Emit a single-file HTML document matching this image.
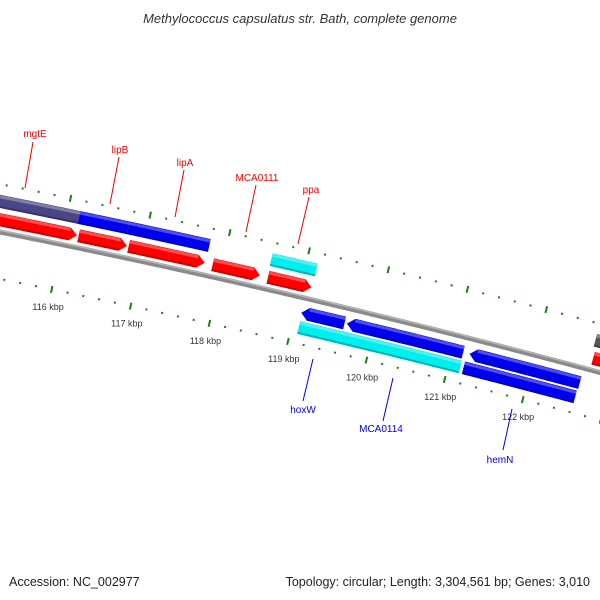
<!DOCTYPE html>
<html><head><meta charset="utf-8"><style>
body{margin:0;background:#fff}
svg{display:block;font-family:"Liberation Sans",sans-serif}
</style></head><body>
<svg id="map" width="600" height="600" viewBox="0 0 600 600" xmlns="http://www.w3.org/2000/svg">
<rect width="600" height="600" fill="#fff"/>
<text x="300" y="23" text-anchor="middle" font-size="13" font-style="italic" fill="#333">Methylococcus capsulatus str. Bath, complete genome</text>
<g id="ticks"></g><g id="genes"></g><g id="labels"></g>
<text x="9" y="586" font-size="12.5" fill="#222">Accession: NC_002977</text>
<text x="590" y="586" text-anchor="end" font-size="12.5" fill="#222">Topology: circular; Length: 3,304,561 bp; Genes: 3,010</text>
</svg>
<script>
// gene data
const geneStarts = [110000,116190,116820,117880,118580,122710, 110000,116150,116770,118570,122680, 119080,119660,121220, 119090,119640,121190];
const geneEnds   = [116170,116800,117780,118480,119130,126000, 116150,116770,117790,119140,126000, 119630,121140,122630, 119640,121150,122620];
const geneRows   = [12,12,12,12,12,12, 30,30,30,30,30, -15,-15,-15, -30,-30,-30];
const geneStrand = [1,1,1,1,1,1, 0,0,0,0,0, -1,-1,-1, 0,0,0];
const geneColors = ["#ff0000","#ff0000","#ff0000","#ff0000","#ff0000","#ff0000","#4a4585","#0000ee","#0000ee","#00eeee","#555555","#0000ee","#0000ee","#0000ee","#00eeee","#00eeee","#0000ee"];
const tickKbp = [113,114,115,116,117,118,119,120,121,122,123,124];
const labelKbp = [116,117,118,119,120,121,122];
const tickLabels = ["116 kbp","117 kbp","118 kbp","119 kbp","120 kbp","121 kbp","122 kbp"];
const labelNames = ["mgtE","lipB","lipA","MCA0111","ppa","hoxW","MCA0114","hemN"];
const labelX = [35,120,185,257,311,303,381,500];
const labelY = [137,153,166,181,193,413,432,463];
const lineFrom = [[33,142],[119,157],[184,170],[256,185],[309,197],[313,359],[393,378],[512,409]];
const lineTo = [[25,188],[110,204],[175,217],[246,232],[298,244],[303,401],[383,421],[503,450]];
const labelColors = ["#ee0000","#ee0000","#ee0000","#ee0000","#ee0000","#0000ee","#0000ee","#0000ee"];

const NS="http://www.w3.org/2000/svg";
const cx=-1820, cy=9355;
const R=Math.hypot(300-cx,297-cy);
const a0=Math.atan2(297-cy,300-cx);
const K=0.00871/1000;
function pt(bp,r){const a=a0+(bp-119020)*K;return [cx+(R+r)*Math.cos(a), cy+(R+r)*Math.sin(a)];}
function arcPts(s,e,r){const p=[];const n=Math.max(2,Math.ceil((e-s)/40));for(let i=0;i<=n;i++)p.push(pt(s+(e-s)*i/n,r));return p;}
function mk(tag,attrs,parent){const el=document.createElementNS(NS,tag);for(const k in attrs)el.setAttribute(k,attrs[k]);parent.appendChild(el);return el;}
const P=p=>p.map(q=>q[0].toFixed(2)+","+q[1].toFixed(2)).join(" ");

const tg=document.getElementById('ticks');
const bb=mk('polyline',{points:P(arcPts(108000,127000,0)),fill:'none',stroke:'#8a8a8a','stroke-width':5},tg);


const bb2=mk('polyline',{points:P(arcPts(108000,127000,1.5)),fill:'none',stroke:'#b5b5b5','stroke-width':1.5},tg);



[47,-46].forEach(rr=>{
  for(let bp=tickKbp[0]*1000;bp<=tickKbp[tickKbp.length-1]*1000;bp+=200){
    const major=bp%1000===0;
    const h=major?3.5:1;
    const a=pt(bp,rr-h),b=pt(bp,rr+h);
    const t=mk('line',{x1:a[0],y1:a[1],x2:b[0],y2:b[1],stroke:'#1a7f1a','stroke-width':2},tg);
    
    
  }
});
labelKbp.forEach((k,i)=>{
  const p=pt(k*1000,-64);
  const t=mk('text',{x:p[0],y:p[1]+3,'text-anchor':'middle','font-size':9,fill:'#333'},tg);
  t.textContent=tickLabels[i];
  
  
});

const gg=document.getElementById('genes');
const H=13, head=90;
geneStarts.forEach((s,i)=>{
  const e=geneEnds[i], r=geneRows[i], st=geneStrand[i];
  let pts;
  const top=r+H/2, bot=r-H/2;
  if(st===1){
    const b=Math.max(s,e-head);
    pts=arcPts(s,b,top).concat([pt(e,r)]).concat(arcPts(s,b,bot).reverse());
  }else if(st===-1){
    const b=Math.min(e,s+head);
    pts=[pt(s,r)].concat(arcPts(b,e,top)).concat(arcPts(b,e,bot).reverse());
  }else{
    pts=arcPts(s,e,top).concat(arcPts(s,e,bot).reverse());
  }
  const g=mk('polygon',{points:P(pts),fill:geneColors[i]},gg);
  
  
  const s2=st===-1?Math.min(e,s+head):s, e2=st===1?Math.max(s,e-head):e;
  const hl=mk('polyline',{points:P(arcPts(s2,e2,top-2)),fill:'none',stroke:'#fff','stroke-opacity':0.3,'stroke-width':3},gg);
  
  
  const sh=mk('polyline',{points:P(arcPts(s2,e2,bot+1)),fill:'none',stroke:'#000','stroke-opacity':0.25,'stroke-width':2},gg);
  
  
});

const lg=document.getElementById('labels');
labelNames.forEach((n,i)=>{
  const l=mk('line',{x1:lineFrom[i][0],y1:lineFrom[i][1],x2:lineTo[i][0],y2:lineTo[i][1],stroke:labelColors[i],'stroke-width':1},lg);
  
  
  const t=mk('text',{x:labelX[i],y:labelY[i],'text-anchor':'middle','font-size':10,fill:labelColors[i]},lg);
  t.textContent=n;
  
  
});
</script>
</body></html>
